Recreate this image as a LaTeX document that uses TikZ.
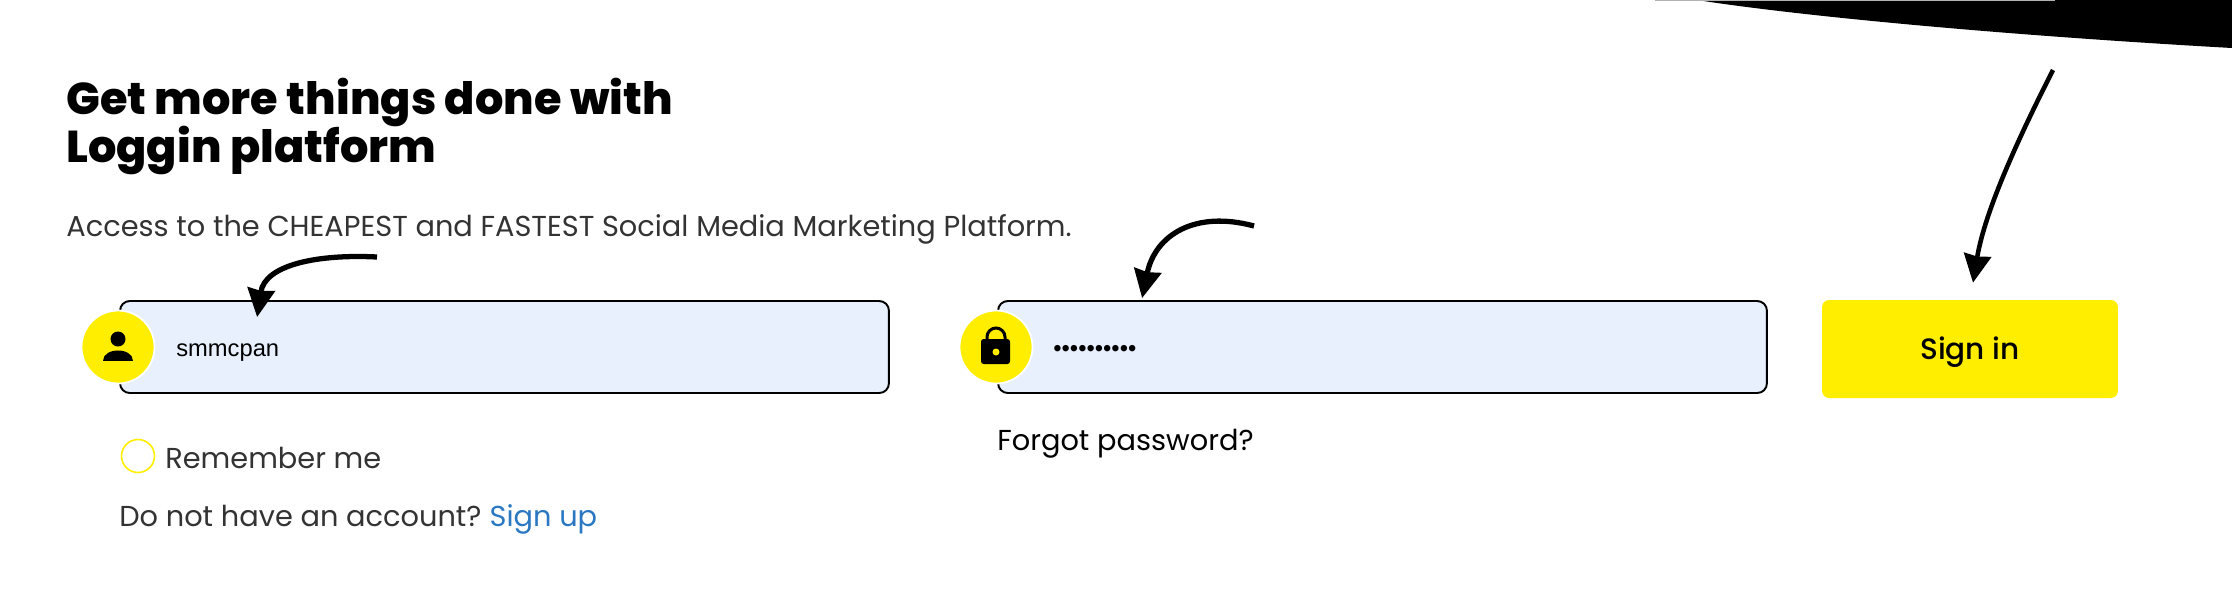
\documentclass[tikz,border=0pt]{standalone}
\usepackage{fontspec}
\setmainfont{Poppins}
\newfontfamily\headfont[UprightFont={* ExtraBold}]{Poppins}
\newfontfamily\midfont[UprightFont={* Medium}]{Poppins}
\newfontfamily\fieldfont{Liberation Sans}
\usetikzlibrary{arrows.meta, positioning, calc}
\definecolor{signyellow}{RGB}{255,238,0}
\definecolor{fieldblue}{RGB}{232,240,254}
\definecolor{bodygrey}{RGB}{51,51,51}
\definecolor{linkblue}{RGB}{43,120,194}

\begin{document}
\begin{tikzpicture}[x=0.02cm, y=-0.02cm,
  fieldbox/.style={draw=black, line width=1.1pt, fill=fieldblue, rounded corners=5.5pt, minimum width=15.38cm, minimum height=1.84cm, inner sep=0pt},
  iconbg/.style={circle, fill=signyellow, draw=white, line width=1pt, minimum size=1.46cm, inner sep=0pt},
  pointer/.style={-{Stealth[length=16pt, width=15.5pt, inset=1pt]}, line width=3pt},
  bodytext/.style={anchor=base west, inner sep=0pt, text=bodygrey, font=\fontsize{16.4}{20}\selectfont},
  fieldtext/.style={anchor=base west, inner sep=0pt, text=black, font=\fieldfont\fontsize{13.5}{16}\selectfont}]
  \useasboundingbox (0,0) rectangle (2232,600);

  % Black shape at the top edge
  \fill[black] (1697,0) .. controls (1800,16) and (2000,35) .. (2232,48) -- (2232,0) -- cycle;
  \fill[black!30] (1655,0) rectangle (2055,1.2);

  % Heading
  \node[anchor=base west, inner sep=0pt, align=left, font=\headfont\fontsize{25.4}{27.4}\selectfont] (heading) at (66,162) {Get more things done with\\[-1.6pt]Loggin platform};
  \node[bodytext] (subline) at (66,236) {Access to the CHEAPEST and FASTEST Social Media Marketing Platform.};

  % Username field
  \node[fieldbox] (userbox) at (504.5,347) {};
  \node[iconbg] (usericon) at (118,347) {};
  \fill[black] (118,339) circle (7.5);
  \fill[black] (103,361) .. controls (103,347) and (133,347) .. (133,361) -- cycle;
  \node[fieldtext] (username) at (176,356) {smmcpan};

  % Password field
  \node[fieldbox] (passbox) at (1382.5,347) {};
  \node[iconbg] (passicon) at (996,347) {};
  \draw[black, line width=1.7pt] (987,342) -- (987,337) arc (180:360:9) -- (1005,342);
  \fill[black, rounded corners=1.5pt] (981,339) rectangle (1010,364);
  \fill[signyellow] (996,352) circle (3.5);
  \node[fieldtext] (password) at (1053,356) {••••••••••};

  % Sign in button
  \node[fill=signyellow, rounded corners=4pt, minimum width=5.92cm, minimum height=1.96cm, inner sep=0pt, text depth=0.5pt, font=\midfont\fontsize{16.8}{20}\selectfont] (signbtn) at (1970,349) {Sign in};

  % Lines under the fields
  \node[circle, draw=signyellow, line width=0.9pt, fill=white, minimum size=0.66cm, inner sep=0pt] (remember) at (138,456) {};
  \node[bodytext] (remembertext) at (165,468) {Remember me};
  \node[bodytext] (accounttext) at (119,526) {Do not have an account?\kern-1.2pt{} \textcolor{linkblue}{Sign up}};
  \node[bodytext, text=black] (forgot) at (997,450) {Forgot password?};

  % Arrows
  \coordinate (userstart) at (377,257);
  \coordinate (passstart) at (1254,226);
  \coordinate (signstart) at (2053,70);
  \draw[pointer] (userstart) .. controls (320,254) and (265,264) .. ($(userbox.north west)+(138,17)$);
  \draw[pointer] (passstart) .. controls (1195,210) and (1155,235) .. ($(passbox.north west)+(145,-2)$);
  \draw[pointer, line width=2.6pt] (signstart) .. controls (2020,135) and (1985,210) .. ($(signbtn.north)+(3,-17)$);
\end{tikzpicture}
\end{document}
